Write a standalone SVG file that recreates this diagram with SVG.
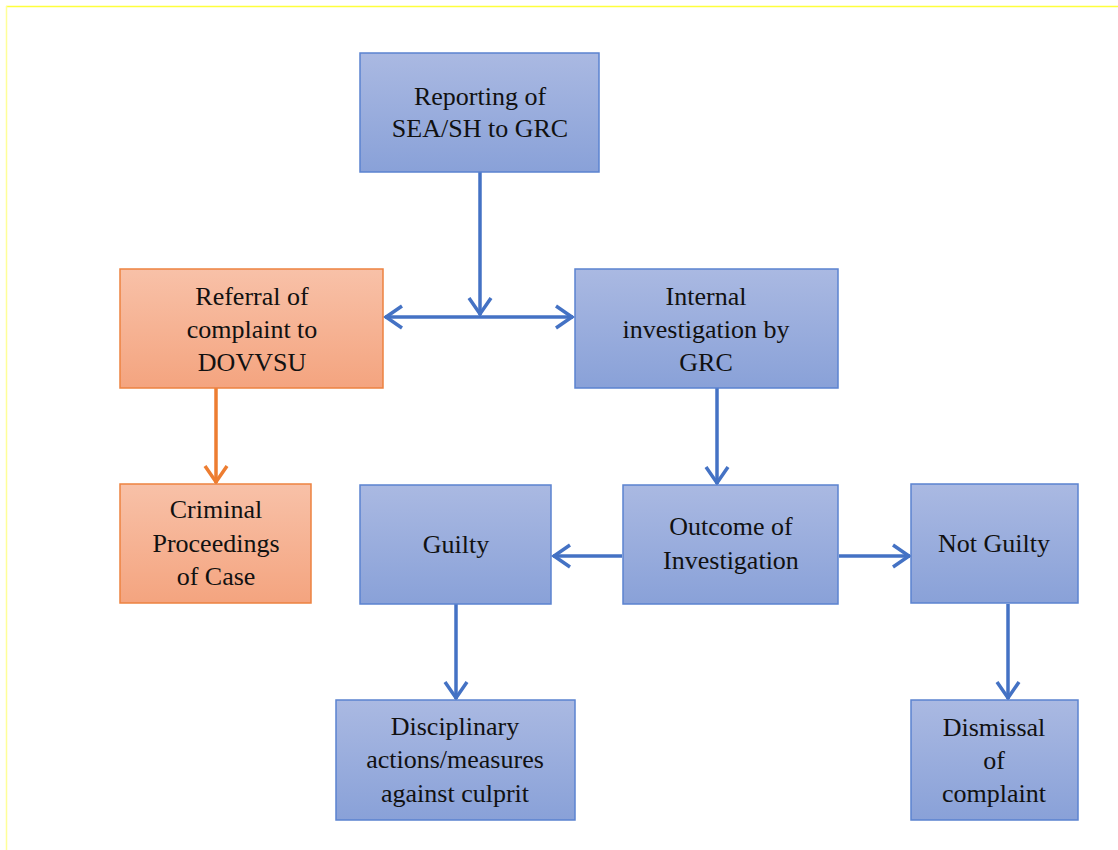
<svg xmlns="http://www.w3.org/2000/svg" width="1118" height="850" viewBox="0 0 1118 850">
<style>
.bn{fill:url(#gb);stroke:#5B83D0;stroke-width:1.5}
.on{fill:url(#go);stroke:#ED8240;stroke-width:1.5}
text{font-family:'Liberation Serif','Times New Roman','DejaVu Serif',serif;font-size:26px;fill:#111;text-anchor:middle}
.cb{fill:none;stroke:#4472C4;stroke-width:3.5}
.co{fill:none;stroke:#ED7D31;stroke-width:3.5}
</style>
<defs>
<linearGradient id="gb" x1="0" y1="0" x2="0" y2="1">
<stop offset="0" stop-color="#AAB9E2"/>
<stop offset="1" stop-color="#89A1D8"/>
</linearGradient>
<linearGradient id="go" x1="0" y1="0" x2="0" y2="1">
<stop offset="0" stop-color="#F8C1A8"/>
<stop offset="1" stop-color="#F4A47F"/>
</linearGradient>
<marker id="ab" viewBox="-20 -14 24 28" markerWidth="24" markerHeight="28" refX="0" refY="0" orient="auto-start-reverse" markerUnits="userSpaceOnUse">
<path d="M-17,-11 L-1,0 L-17,11" fill="none" stroke="#4472C4" stroke-width="3.5"/>
</marker>
<marker id="ao" viewBox="-20 -14 24 28" markerWidth="24" markerHeight="28" refX="0" refY="0" orient="auto" markerUnits="userSpaceOnUse">
<path d="M-17,-11 L-1,0 L-17,11" fill="none" stroke="#ED7D31" stroke-width="3.5"/>
</marker>
</defs>
<rect width="1118" height="850" fill="#fff"/>
<g id="frame">
<line x1="6" y1="6.5" x2="1118" y2="6.5" stroke="#FFFF3C" stroke-width="1.5"/>
<line x1="6.5" y1="6" x2="6.5" y2="850" stroke="#FFFF99" stroke-width="1.5"/>
</g>
<g id="connectors">
<path class="cb" d="M480,172 V315" marker-end="url(#ab)"/>
<path class="cb" d="M385,317 H573" marker-start="url(#ab)" marker-end="url(#ab)"/>
<path class="co" d="M216,388 V483" marker-end="url(#ao)"/>
<path class="cb" d="M717,388 V484" marker-end="url(#ab)"/>
<path class="cb" d="M622,556 H553" marker-end="url(#ab)"/>
<path class="cb" d="M839,556 H910" marker-end="url(#ab)"/>
<path class="cb" d="M456,604 V699" marker-end="url(#ab)"/>
<path class="cb" d="M1008,604 V699" marker-end="url(#ab)"/>
</g>
<g id="reporting">
<rect class="bn" x="360" y="53" width="239" height="119"/>
<text x="480" y="105">Reporting of</text>
<text x="480" y="137">SEA/SH to GRC</text>
</g>
<g id="referral">
<rect class="on" x="120" y="269" width="263" height="119"/>
<text x="252" y="305">Referral of</text>
<text x="252" y="338">complaint to</text>
<text x="252" y="371">DOVVSU</text>
</g>
<g id="internal">
<rect class="bn" x="575" y="269" width="263" height="119"/>
<text x="706" y="305">Internal</text>
<text x="706" y="338">investigation by</text>
<text x="706" y="371">GRC</text>
</g>
<g id="criminal">
<rect class="on" x="120" y="484" width="191" height="119"/>
<text x="216" y="518">Criminal</text>
<text x="216" y="552">Proceedings</text>
<text x="216" y="585">of Case</text>
</g>
<g id="guilty">
<rect class="bn" x="360" y="485" width="191" height="119"/>
<text x="456" y="553">Guilty</text>
</g>
<g id="outcome">
<rect class="bn" x="623" y="485" width="215" height="119"/>
<text x="731" y="535">Outcome of</text>
<text x="731" y="569">Investigation</text>
</g>
<g id="notguilty">
<rect class="bn" x="911" y="484" width="167" height="119"/>
<text x="994" y="552">Not Guilty</text>
</g>
<g id="disciplinary">
<rect class="bn" x="336" y="700" width="239" height="120"/>
<text x="455" y="735">Disciplinary</text>
<text x="455" y="768">actions/measures</text>
<text x="455" y="802">against culprit</text>
</g>
<g id="dismissal">
<rect class="bn" x="911" y="700" width="167" height="120"/>
<text x="994" y="736">Dismissal</text>
<text x="994" y="769">of</text>
<text x="994" y="802">complaint</text>
</g>
</svg>
